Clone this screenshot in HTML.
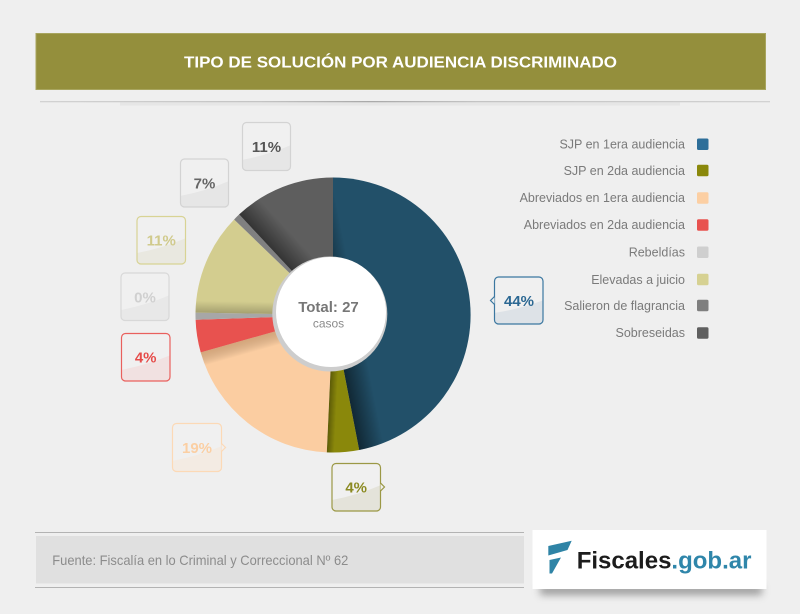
<!DOCTYPE html>
<html><head><meta charset="utf-8"><style>
html,body{margin:0;padding:0;background:#efefef;}
svg{display:block;}
text{font-family:"Liberation Sans",Arial,sans-serif;}
</style></head><body>
<svg width="800" height="614" viewBox="0 0 800 614" xmlns="http://www.w3.org/2000/svg">
<defs>
  <linearGradient id="hl" x1="0" x2="1" y1="0" y2="0">
    <stop offset="0" stop-color="#d2d2d2"/>
    <stop offset="0.3" stop-color="#c4c4c4"/>
    <stop offset="0.45" stop-color="#a9a9a9"/>
    <stop offset="0.6" stop-color="#c4c4c4"/>
    <stop offset="1" stop-color="#d2d2d2"/>
  </linearGradient>
  <linearGradient id="sBlue" gradientUnits="userSpaceOnUse" x1="333" y1="315" x2="357.5" y2="310.2">
    <stop offset="0" stop-color="#000" stop-opacity="0.5"/><stop offset="1" stop-color="#000" stop-opacity="0"/>
  </linearGradient>
  <linearGradient id="sOlive" gradientUnits="userSpaceOnUse" x1="333" y1="315" x2="341" y2="315.4">
    <stop offset="0" stop-color="#000" stop-opacity="0.35"/><stop offset="1" stop-color="#000" stop-opacity="0"/>
  </linearGradient>
  <linearGradient id="sPeach" gradientUnits="userSpaceOnUse" x1="333" y1="315" x2="336.8" y2="328.5">
    <stop offset="0" stop-color="#7a4a20" stop-opacity="0.3"/><stop offset="1" stop-color="#000" stop-opacity="0"/>
  </linearGradient>
  <linearGradient id="sKhaki" gradientUnits="userSpaceOnUse" x1="333" y1="315" x2="333.2" y2="303">
    <stop offset="0" stop-color="#000" stop-opacity="0.22"/><stop offset="1" stop-color="#000" stop-opacity="0"/>
  </linearGradient>
  <linearGradient id="sDark" gradientUnits="userSpaceOnUse" x1="333" y1="315" x2="351.3" y2="297.9">
    <stop offset="0" stop-color="#000" stop-opacity="0.45"/><stop offset="1" stop-color="#000" stop-opacity="0"/>
  </linearGradient>
  <clipPath id="cBlue"><path d="M333,315 L333,177.5 A137.5,137.5 0 0 1 359.2,450 Z"/></clipPath>
  <clipPath id="cOlive"><path d="M333,315 L359.2,450 A137.5,137.5 0 0 1 326.8,452.4 Z"/></clipPath>
  <clipPath id="cPeach"><path d="M333,315 L326.8,452.4 A137.5,137.5 0 0 1 200.7,352.4 Z"/></clipPath>
  <clipPath id="cKhaki"><path d="M333,315 L195.5,312.6 A137.5,137.5 0 0 1 234.1,219.5 Z"/></clipPath>
  <clipPath id="cDark"><path d="M333,315 L239.2,214.4 A137.5,137.5 0 0 1 333,177.5 Z"/></clipPath>
  <filter id="blur4" x="-20%" y="-100%" width="140%" height="300%"><feGaussianBlur stdDeviation="4"/></filter>
</defs>

<rect width="800" height="614" fill="#efefef"/>

<!-- Header -->
<rect x="36" y="33.5" width="729.5" height="56" fill="#948f3c" stroke="#a8a55e" stroke-width="1"/>
<text x="184" y="67.7" font-size="16" font-weight="bold" fill="#ffffff" textLength="433" lengthAdjust="spacingAndGlyphs">TIPO DE SOLUCIÓN POR AUDIENCIA DISCRIMINADO</text>
<rect x="40" y="101" width="730" height="1.3" fill="url(#hl)"/>
<rect x="120" y="102.5" width="560" height="3" fill="#e3e3e3" opacity="0.7"/>

<!-- Pie -->
<path d="M333,315 L333,177.5 A137.5,137.5 0 0 1 359.2,450 Z" fill="#225069"/>
<path d="M333,315 L359.2,450 A137.5,137.5 0 0 1 326.8,452.4 Z" fill="#8a880b"/>
<path d="M333,315 L326.8,452.4 A137.5,137.5 0 0 1 200.7,352.4 Z" fill="#fbcda1"/>
<path d="M333,315 L200.7,352.4 A137.5,137.5 0 0 1 195.6,319.8 Z" fill="#e8524f"/>
<path d="M333,315 L195.6,319.8 A137.5,137.5 0 0 1 195.5,312.6 Z" fill="#a7a7a7"/>
<path d="M333,315 L195.5,312.6 A137.5,137.5 0 0 1 234.1,219.5 Z" fill="#d3cd8f"/>
<path d="M333,315 L234.1,219.5 A137.5,137.5 0 0 1 239.2,214.4 Z" fill="#808080"/>
<path d="M333,315 L239.2,214.4 A137.5,137.5 0 0 1 333,177.5 Z" fill="#5e5e5e"/>
<rect x="180" y="170" width="300" height="290" fill="url(#sBlue)" clip-path="url(#cBlue)"/>
<rect x="180" y="170" width="300" height="290" fill="url(#sOlive)" clip-path="url(#cOlive)"/>
<rect x="180" y="170" width="300" height="290" fill="url(#sPeach)" clip-path="url(#cPeach)"/>
<rect x="180" y="170" width="300" height="290" fill="url(#sKhaki)" clip-path="url(#cKhaki)"/>
<rect x="180" y="170" width="300" height="290" fill="url(#sDark)" clip-path="url(#cDark)"/>

<circle cx="329.8" cy="314" r="57.5" fill="#cdcdcd"/>
<circle cx="331" cy="312" r="55" fill="#ffffff"/>
<text x="328.5" y="312" font-size="15" font-weight="bold" fill="#777777" text-anchor="middle">Total: 27</text>
<text x="328.5" y="327.5" font-size="12" fill="#8a8a8a" text-anchor="middle">casos</text>

<!-- Callouts -->
<defs>
  <clipPath id="b1"><rect x="242.5" y="122.5" width="48" height="48" rx="4"/></clipPath>
  <clipPath id="b2"><rect x="180.5" y="159" width="48" height="48" rx="4"/></clipPath>
  <clipPath id="b3"><rect x="137" y="216.5" width="48.5" height="47.5" rx="4"/></clipPath>
  <clipPath id="b4"><rect x="121" y="273" width="48" height="47.5" rx="4"/></clipPath>
  <clipPath id="b5"><rect x="121.5" y="333.5" width="48.5" height="47.5" rx="4"/></clipPath>
  <clipPath id="b6"><rect x="172.5" y="423.5" width="49" height="48" rx="4"/></clipPath>
  <clipPath id="b7"><rect x="332" y="463.5" width="48.5" height="47.5" rx="4"/></clipPath>
  <clipPath id="b8"><rect x="494.5" y="277" width="48.5" height="47" rx="4"/></clipPath>
</defs>

<!-- 11% dark -->
<rect x="242.5" y="122.5" width="48" height="48" rx="4" fill="#f0f0f0"/>
<path d="M242,160 Q268,155 291,145 L291,171 L242,171 Z" fill="#e6e6e6" clip-path="url(#b1)"/>
<rect x="242.5" y="122.5" width="48" height="48" rx="4" fill="none" stroke="#d3d3d3" stroke-width="1.2"/>
<text x="266.5" y="152" font-size="15" font-weight="bold" fill="#555555" text-anchor="middle">11%</text>

<!-- 7% -->
<rect x="180.5" y="159" width="48" height="48" rx="4" fill="#f0f0f0"/>
<path d="M180,196 Q206,191 229,181 L229,208 L180,208 Z" fill="#e6e6e6" clip-path="url(#b2)"/>
<rect x="180.5" y="159" width="48" height="48" rx="4" fill="none" stroke="#d3d3d3" stroke-width="1.2"/>
<text x="204.5" y="188.5" font-size="15" font-weight="bold" fill="#666666" text-anchor="middle">7%</text>

<!-- 11% khaki -->
<rect x="137" y="216.5" width="48.5" height="47.5" rx="4" fill="#f0f0f0"/>
<path d="M137,253 Q163,248 186,238 L186,265 L137,265 Z" fill="#e9e8e0" clip-path="url(#b3)"/>
<rect x="137" y="216.5" width="48.5" height="47.5" rx="4" fill="none" stroke="#d8d394" stroke-width="1.2"/>
<text x="161.2" y="245.5" font-size="15" font-weight="bold" fill="#d0ca8c" text-anchor="middle">11%</text>

<!-- 0% -->
<rect x="121" y="273" width="48" height="47.5" rx="4" fill="#f0f0f0"/>
<path d="M121,310 Q147,305 170,295 L170,321 L121,321 Z" fill="#e8e8e8" clip-path="url(#b4)"/>
<rect x="121" y="273" width="48" height="47.5" rx="4" fill="none" stroke="#d8d8d8" stroke-width="1.2"/>
<text x="145" y="302.5" font-size="15" font-weight="bold" fill="#d0d0d0" text-anchor="middle">0%</text>

<!-- 4% red -->
<rect x="121.5" y="333.5" width="48.5" height="47.5" rx="4" fill="#f0f0f0"/>
<path d="M121,370 Q147,365 171,355 L171,382 L121,382 Z" fill="#f1e1e1" clip-path="url(#b5)"/>
<rect x="121.5" y="333.5" width="48.5" height="47.5" rx="4" fill="none" stroke="#e9605d" stroke-width="1.2"/>
<text x="145.7" y="362.5" font-size="15" font-weight="bold" fill="#e64c4a" text-anchor="middle">4%</text>

<!-- 19% peach -->
<rect x="172.5" y="423.5" width="49" height="48" rx="4" fill="#f0f0f0"/>
<path d="M172,461 Q198,456 222,446 L222,472 L172,472 Z" fill="#f3ebe3" clip-path="url(#b6)"/>
<rect x="172.5" y="423.5" width="49" height="48" rx="4" fill="none" stroke="#fcd9b6" stroke-width="1.2"/>
<path d="M221.5,443.5 L225.5,447.5 L221.5,451.5" fill="#f0f0f0" stroke="#fcd9b6" stroke-width="1.2"/>
<text x="197" y="453" font-size="15" font-weight="bold" fill="#fbcfa3" text-anchor="middle">19%</text>

<!-- 4% olive -->
<rect x="332" y="463.5" width="48.5" height="47.5" rx="4" fill="#f0f0f0"/>
<path d="M332,500 Q358,495 381,485 L381,512 L332,512 Z" fill="#e4e3da" clip-path="url(#b7)"/>
<rect x="332" y="463.5" width="48.5" height="47.5" rx="4" fill="none" stroke="#9b9845" stroke-width="1.2"/>
<path d="M380.5,483 L384.5,487 L380.5,491" fill="#f0f0f0" stroke="#9b9845" stroke-width="1.2"/>
<text x="356.2" y="492.5" font-size="15" font-weight="bold" fill="#8b8a22" text-anchor="middle">4%</text>

<!-- 44% blue -->
<rect x="494.5" y="277" width="48.5" height="47" rx="4" fill="#f0f0f0"/>
<path d="M494,313 Q520,309 544,300 L544,325 L494,325 Z" fill="#dde2e7" clip-path="url(#b8)"/>
<rect x="494.5" y="277" width="48.5" height="47" rx="4" fill="none" stroke="#3b77a0" stroke-width="1.2"/>
<path d="M494.5,296.5 L490.5,300.5 L494.5,304.5" fill="#f0f0f0" stroke="#3b77a0" stroke-width="1.2"/>
<text x="519" y="306" font-size="15" font-weight="bold" fill="#2c6893" text-anchor="middle">44%</text>

<!-- Legend -->
<g font-size="12.5" fill="#7a7a7a" text-anchor="end">
  <text x="685" y="148.5">SJP en 1era audiencia</text>
  <text x="685" y="174.8">SJP en 2da audiencia</text>
  <text x="685" y="202.2">Abreviados en 1era audiencia</text>
  <text x="685" y="229.2">Abreviados en 2da audiencia</text>
  <text x="685" y="256.5">Rebeldías</text>
  <text x="685" y="283.8">Elevadas a juicio</text>
  <text x="685" y="309.8">Salieron de flagrancia</text>
  <text x="685" y="337.2">Sobreseidas</text>
</g>
<rect x="697" y="138.5" width="11.5" height="11.5" rx="1.5" fill="#2d6e99"/>
<rect x="697" y="164.8" width="11.5" height="11.5" rx="1.5" fill="#8a880b"/>
<rect x="697" y="192.2" width="11.5" height="11.5" rx="1.5" fill="#fccfa3"/>
<rect x="697" y="219.2" width="11.5" height="11.5" rx="1.5" fill="#e8524f"/>
<rect x="697" y="246.5" width="11.5" height="11.5" rx="1.5" fill="#cfcfcf"/>
<rect x="697" y="273.8" width="11.5" height="11.5" rx="1.5" fill="#d6d192"/>
<rect x="697" y="299.8" width="11.5" height="11.5" rx="1.5" fill="#7f7f7f"/>
<rect x="697" y="327.2" width="11.5" height="11.5" rx="1.5" fill="#5f5f5f"/>

<!-- Footer -->
<rect x="35" y="532" width="489" height="1" fill="#b3b3b3"/>
<rect x="36" y="536" width="488" height="47.5" fill="#e0e0e0"/>
<rect x="35" y="587" width="489" height="1" fill="#b3b3b3"/>
<text x="52.3" y="565" font-size="14" fill="#8c8c8c" textLength="296" lengthAdjust="spacingAndGlyphs">Fuente: Fiscalía en lo Criminal y Correccional Nº 62</text>

<!-- Logo -->
<rect x="540" y="585" width="222" height="10" fill="#7a7a7a" opacity="0.7" filter="url(#blur4)"/>
<rect x="532.5" y="530" width="234" height="59" fill="#ffffff"/>
<path d="M548.3,546 L571.7,540.7 L567.5,550 L548.3,555.5 Z" fill="#2f84a6"/>
<path d="M549.5,560 L561,557.5 L552,573.5 L549.5,573.5 Z" fill="#2f84a6"/>
<text x="576.7" y="568.3" font-size="24" font-weight="bold" fill="#1c1c1c">Fiscales<tspan fill="#2f86aa">.gob.ar</tspan></text>
</svg>
</body></html>
